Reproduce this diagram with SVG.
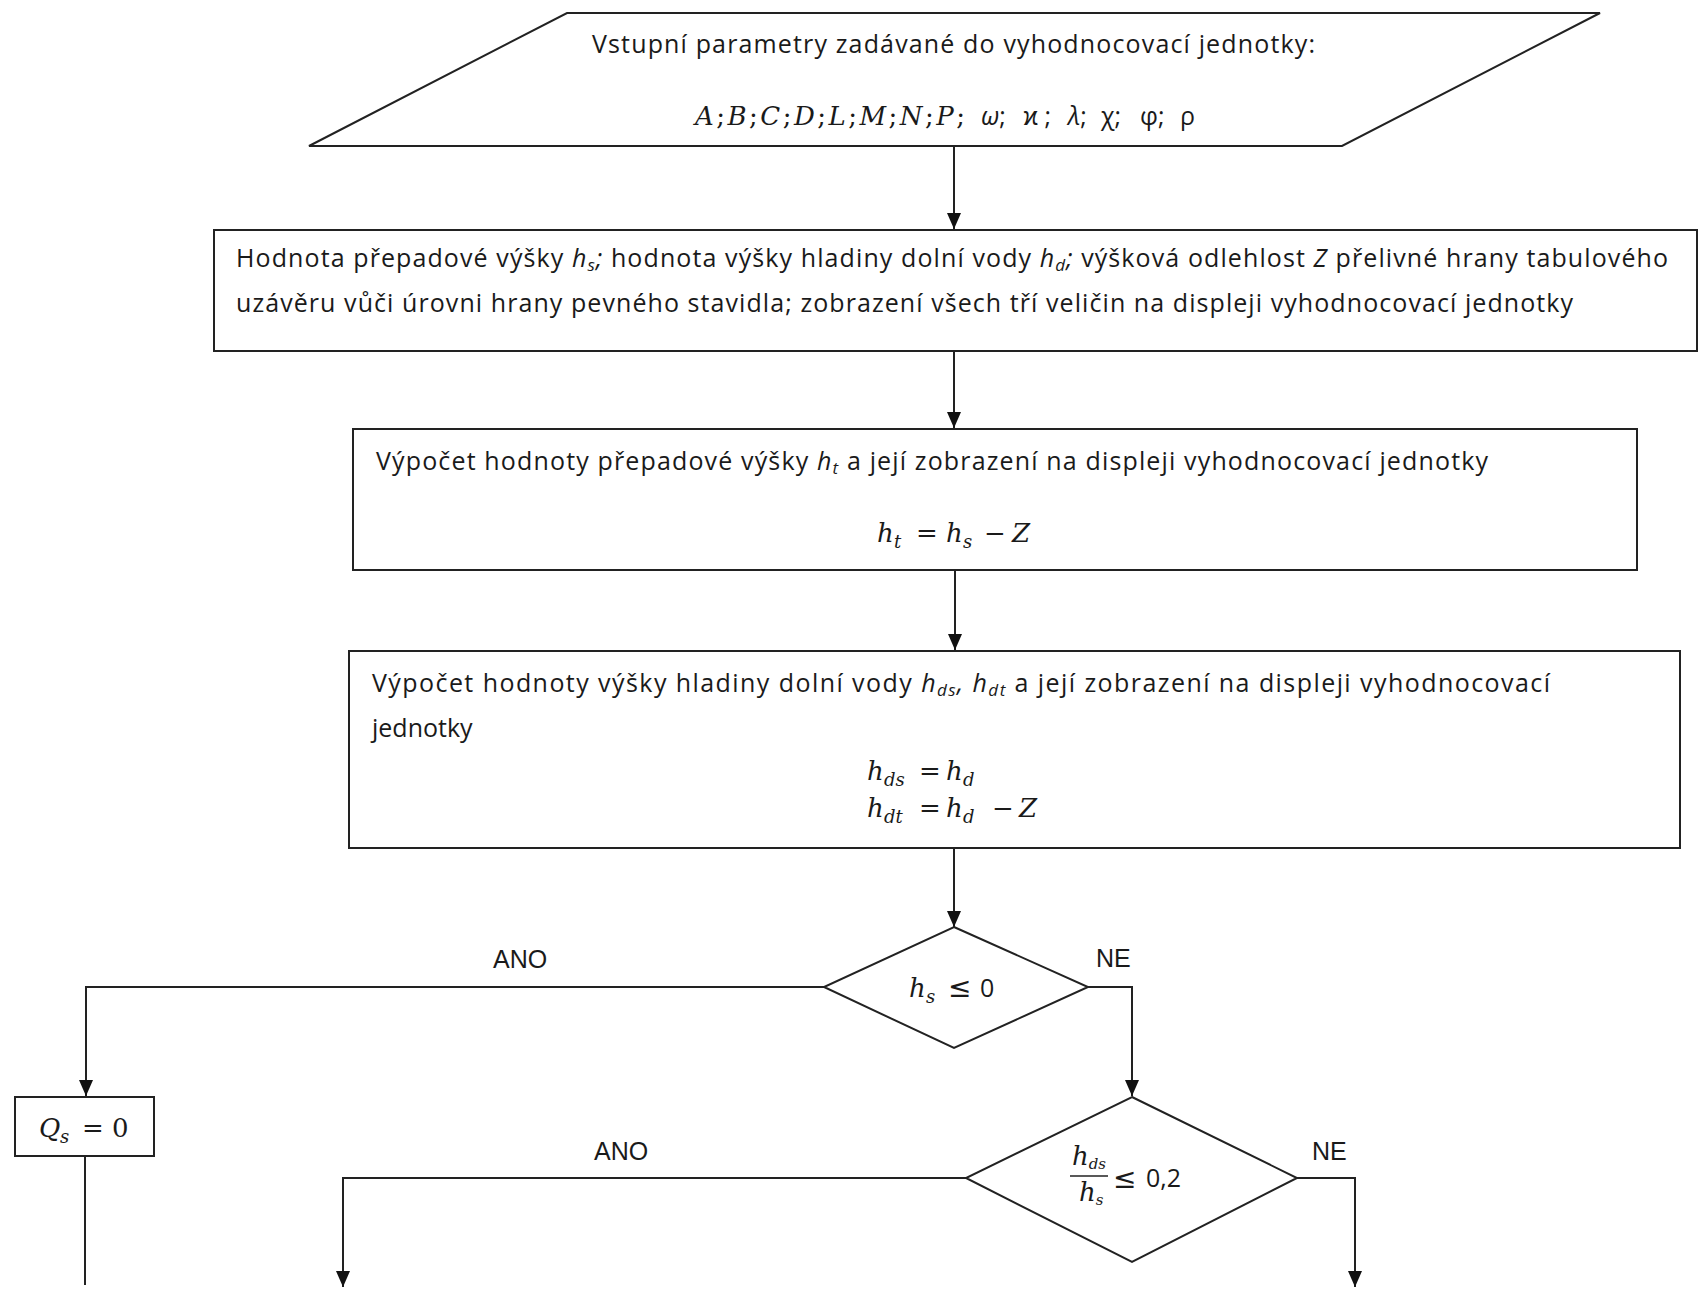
<svg xmlns="http://www.w3.org/2000/svg" width="1700" height="1297" viewBox="0 0 1700 1297">
<style>
.shape{fill:#fff;stroke:#222;stroke-width:2}
.conn{fill:none;stroke:#222;stroke-width:2}
.t{font-family:"Open Sans","Liberation Sans",sans-serif;font-size:25px;fill:#1a1a1a}
.i{font-style:italic}
.s{font-size:17px}
.m{font-family:"DejaVu Serif","Liberation Serif",serif;font-style:italic;font-size:26px;fill:#1a1a1a}
.up{font-style:normal}
.ms{font-size:18px}
.sym{font-family:"DejaVu Sans",sans-serif;font-size:28px;fill:#1a1a1a}
.lbl{font-family:"Liberation Sans",Arial,sans-serif;font-size:25px;fill:#1a1a1a}
</style>
<defs>
<marker id="arr" viewBox="0 0 16 14" refX="16" refY="7" markerWidth="16" markerHeight="14" markerUnits="userSpaceOnUse" orient="auto">
<path d="M0,0 L16,7 L0,14 z" fill="#111"/>
</marker>
</defs>
<rect width="1700" height="1297" fill="#fff"/>

<g id="connectors">
<path class="conn" d="M954,146 V229" marker-end="url(#arr)"/>
<path class="conn" d="M954,351 V428" marker-end="url(#arr)"/>
<path class="conn" d="M955,570 V650" marker-end="url(#arr)"/>
<path class="conn" d="M954,848 V927" marker-end="url(#arr)"/>
<path class="conn" d="M824,987 H86 V1096" marker-end="url(#arr)"/>
<path class="conn" d="M1088,987 H1132 V1096" marker-end="url(#arr)"/>
<path class="conn" d="M85,1156 V1285"/>
<path class="conn" d="M966,1178 H343 V1287" marker-end="url(#arr)"/>
<path class="conn" d="M1297,1178 H1355 V1287" marker-end="url(#arr)"/>
</g>

<g id="input">
<polygon class="shape" points="567,13 1600,13 1342,146 309,146"/>
<text class="t" x="592" y="53" textLength="723">Vstupní parametry zadávané do vyhodnocovací jednotky:</text>
<text class="m" x="695" y="125" font-size="24" textLength="270">A<tspan class="up">;</tspan>B<tspan class="up">;</tspan>C<tspan class="up">;</tspan>D<tspan class="up">;</tspan>L<tspan class="up">;</tspan>M<tspan class="up">;</tspan>N<tspan class="up">;</tspan>P<tspan class="up">;</tspan></text>
<text class="t" y="125"><tspan class="i" x="981">ω</tspan><tspan>;</tspan><tspan x="1023">ϰ ;</tspan><tspan class="i" x="1068">λ</tspan><tspan>;</tspan><tspan x="1101">χ;</tspan><tspan x="1140">φ;</tspan><tspan x="1180">ρ</tspan></text>
</g>

<g id="box-values">
<rect class="shape" x="214" y="230" width="1483" height="121"/>
<text class="t" x="236" y="267" textLength="1432">Hodnota přepadové výšky <tspan class="i">h</tspan><tspan class="i s" dy="4">s</tspan><tspan class="i" dy="-4">;</tspan> hodnota výšky hladiny dolní vody <tspan class="i">h</tspan><tspan class="i s" dy="4">d</tspan><tspan class="i" dy="-4">;</tspan> výšková odlehlost <tspan class="i">Z</tspan> přelivné hrany tabulového</text>
<text class="t" x="236" y="312" textLength="1337">uzávěru vůči úrovni hrany pevného stavidla; zobrazení všech tří veličin na displeji vyhodnocovací jednotky</text>
</g>

<g id="box-ht">
<rect class="shape" x="353" y="429" width="1284" height="141"/>
<text class="t" x="376" y="470" textLength="1112">Výpočet hodnoty přepadové výšky <tspan class="i">h</tspan><tspan class="i s" dy="4">t</tspan><tspan dy="-4"> a její zobrazení na displeji vyhodnocovací jednotky</tspan></text>
<text class="m" y="542"><tspan x="877">h</tspan><tspan class="ms" x="894" dy="6">t</tspan><tspan class="up" x="916" dy="-6">=</tspan><tspan x="946">h</tspan><tspan class="ms" x="963" dy="6">s</tspan><tspan class="up" x="984" dy="-6">−</tspan><tspan x="1012">Z</tspan></text>
</g>

<g id="box-hd">
<rect class="shape" x="349" y="651" width="1331" height="197"/>
<text class="t" x="372" y="692" textLength="1178">Výpočet hodnoty výšky hladiny dolní vody <tspan class="i">h</tspan><tspan class="i s" dy="4">ds</tspan><tspan class="i" dy="-4">,</tspan> <tspan class="i">h</tspan><tspan class="i s" dy="4">dt</tspan><tspan dy="-4"> a její zobrazení na displeji vyhodnocovací</tspan></text>
<text class="t" x="372" y="737">jednotky</text>
<text class="m" y="780"><tspan x="867">h</tspan><tspan class="ms" x="884" dy="6">ds</tspan><tspan class="up" x="919" dy="-6">=</tspan><tspan x="946">h</tspan><tspan class="ms" x="963" dy="6">d</tspan></text>
<text class="m" y="817"><tspan x="867">h</tspan><tspan class="ms" x="884" dy="6">dt</tspan><tspan class="up" x="919" dy="-6">=</tspan><tspan x="946">h</tspan><tspan class="ms" x="963" dy="6">d</tspan><tspan class="up" x="992" dy="-6">−</tspan><tspan x="1019">Z</tspan></text>
</g>

<g id="decision-hs">
<polygon class="shape" points="954,927 1088,987 954,1048 824,987"/>
<text class="m" y="997"><tspan x="909">h</tspan><tspan class="ms" x="926" dy="6">s</tspan></text>
<text class="sym" x="948" y="997">≤</text>
<text class="t" x="980" y="997" font-size="27">0</text>
</g>

<g id="decision-ratio">
<polygon class="shape" points="1132,1097 1297,1178 1132,1262 966,1178"/>
<text class="m" x="1072" y="1165" font-size="19">h<tspan dy="4" font-size="15">ds</tspan></text>
<line x1="1070" y1="1176" x2="1108" y2="1176" stroke="#222" stroke-width="1.5"/>
<text class="m" x="1079" y="1201" font-size="19">h<tspan dy="4" font-size="15">s</tspan></text>
<text class="sym" x="1113" y="1188">≤</text>
<text class="t" x="1146" y="1187" font-size="27">0,2</text>
</g>

<g id="result-q0">
<rect class="shape" x="15" y="1097" width="139" height="59"/>
<text class="m" y="1137"><tspan x="39">Q</tspan><tspan class="ms" x="60" dy="6">s</tspan><tspan class="up" x="82" dy="-6">=</tspan><tspan class="up" x="112">0</tspan></text>
</g>

<g id="labels">
<text class="lbl" x="493" y="968">ANO</text>
<text class="lbl" x="1096" y="967">NE</text>
<text class="lbl" x="594" y="1160">ANO</text>
<text class="lbl" x="1312" y="1160">NE</text>
</g>
</svg>
